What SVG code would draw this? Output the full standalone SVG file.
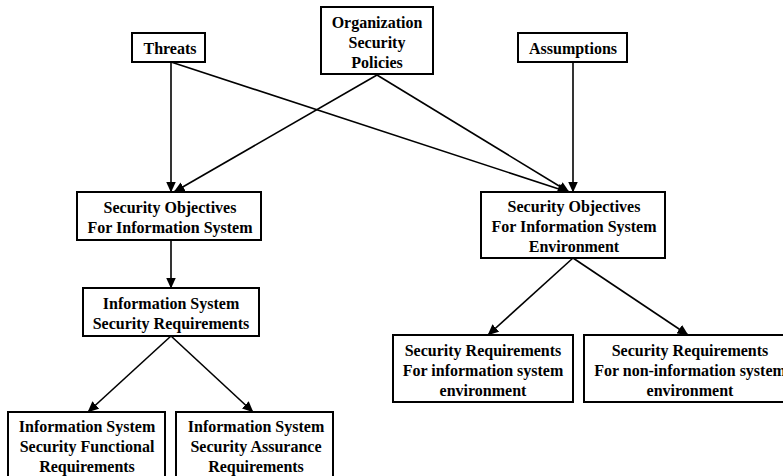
<svg xmlns="http://www.w3.org/2000/svg" width="783" height="476" viewBox="0 0 783 476">
<style>
.box{fill:#fff;stroke:#000;stroke-width:2}
.t{font-family:"Liberation Serif","Times New Roman",serif;font-weight:bold;font-size:16px;fill:#000;text-anchor:middle}
.c{fill:none;stroke:#000;stroke-width:1.6}
</style>
<defs>
<marker id="ah" markerUnits="userSpaceOnUse" markerWidth="11" markerHeight="10" refX="10.5" refY="5" orient="auto">
<path d="M0,0 L11,5 L0,10 Z" fill="#000"/>
</marker>
</defs>
<rect width="783" height="476" fill="#fff"/>
<g id="connectors">
<line class="c" x1="171" y1="62" x2="171" y2="192" marker-end="url(#ah)"/>
<line class="c" x1="377" y1="75" x2="174" y2="192" marker-end="url(#ah)"/>
<line class="c" x1="171" y1="62" x2="568" y2="192" marker-end="url(#ah)"/>
<line class="c" x1="377" y1="75" x2="569" y2="192" marker-end="url(#ah)"/>
<line class="c" x1="573" y1="62" x2="573" y2="192" marker-end="url(#ah)"/>
<line class="c" x1="171" y1="240" x2="171" y2="288" marker-end="url(#ah)"/>
<line class="c" x1="171" y1="336" x2="88" y2="412" marker-end="url(#ah)"/>
<line class="c" x1="171" y1="336" x2="253" y2="412" marker-end="url(#ah)"/>
<line class="c" x1="573" y1="258" x2="488" y2="335" marker-end="url(#ah)"/>
<line class="c" x1="573" y1="258" x2="688" y2="335" marker-end="url(#ah)"/>
</g>
<g id="threats">
<rect class="box" x="132" y="33" width="73" height="29"/>
<text class="t" x="170" y="54">Threats</text>
</g>
<g id="policies">
<rect class="box" x="321" y="7" width="112" height="67"/>
<text class="t" x="377" y="28">Organization</text>
<text class="t" x="377" y="48">Security</text>
<text class="t" x="377" y="67.5">Policies</text>
</g>
<g id="assumptions">
<rect class="box" x="518" y="33" width="109" height="29"/>
<text class="t" x="573" y="54">Assumptions</text>
</g>
<g id="obj-is">
<rect class="box" x="77" y="192" width="184" height="48"/>
<text class="t" x="170" y="212.5">Security Objectives</text>
<text class="t" x="170" y="232.5">For Information System</text>
</g>
<g id="obj-env">
<rect class="box" x="481" y="192" width="184" height="66"/>
<text class="t" x="574" y="212">Security Objectives</text>
<text class="t" x="574" y="232">For Information System</text>
<text class="t" x="574" y="252">Environment</text>
</g>
<g id="is-req">
<rect class="box" x="83" y="288" width="176" height="48"/>
<text class="t" x="171" y="308.5">Information System</text>
<text class="t" x="171" y="328.5">Security Requirements</text>
</g>
<g id="func-req">
<rect class="box" x="8" y="412" width="157" height="67"/>
<text class="t" x="87" y="432">Information System</text>
<text class="t" x="87" y="452">Security Functional</text>
<text class="t" x="87" y="471.5">Requirements</text>
</g>
<g id="assur-req">
<rect class="box" x="176" y="412" width="157" height="67"/>
<text class="t" x="256" y="432">Information System</text>
<text class="t" x="256" y="452">Security Assurance</text>
<text class="t" x="256" y="471.5">Requirements</text>
</g>
<g id="env-req">
<rect class="box" x="393" y="335" width="180" height="67"/>
<text class="t" x="483" y="356">Security Requirements</text>
<text class="t" x="483" y="376">For information system</text>
<text class="t" x="483" y="396">environment</text>
</g>
<g id="nonenv-req">
<rect class="box" x="584" y="335" width="212" height="67"/>
<text class="t" x="690" y="356">Security Requirements</text>
<text class="t" x="690" y="376">For non-information system</text>
<text class="t" x="690" y="396">environment</text>
</g>
</svg>
